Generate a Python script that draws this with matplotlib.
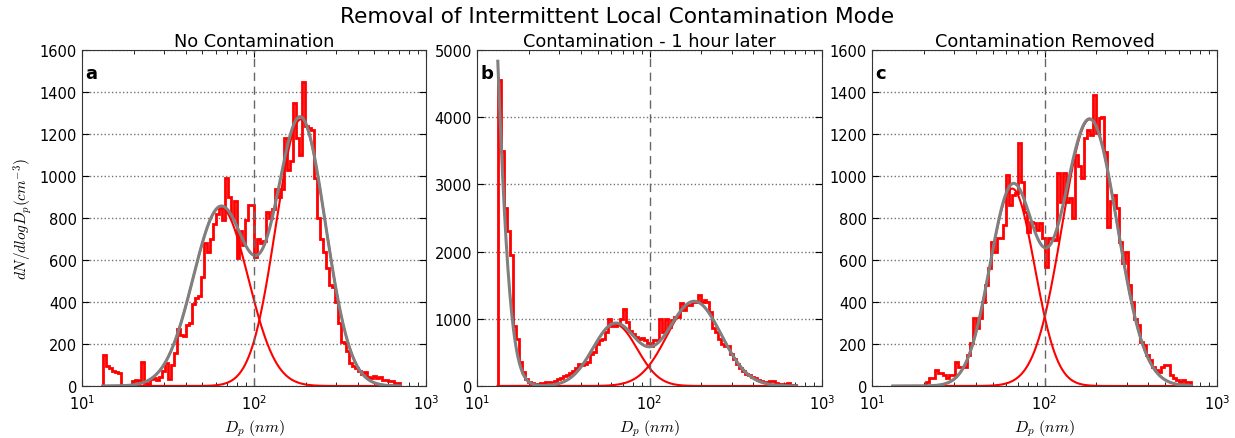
import numpy as np
import matplotlib
matplotlib.use("Agg")
from matplotlib import pyplot as plt
from matplotlib.ticker import MultipleLocator, LogLocator, NullFormatter

plt.rcParams['mathtext.fontset'] = 'cm'

# size channels (nm), shared by the three panels
d_min, d_max, n_bins = 13.2, 706.0, 100

# measured size distributions dN/dlogDp (cm^-3), one value per channel
no_contam = [150, 95, 85, 70, 65, 60, 0, 0, 0, 0,
             25, 30, 25, 115, 15, 10, 35, 40, 30, 45,
             70, 110, 35, 100, 155, 270, 245, 240, 290, 300,
             390, 420, 430, 520, 680, 640, 700, 770, 820, 850,
             790, 990, 900, 800, 880, 610, 740, 670, 790, 860,
             860, 616, 700, 680, 690, 830, 800, 845, 940, 900,
             940, 1180, 1030, 1070, 1350, 1180, 1100, 1450, 1240, 1230,
             1220, 990, 800, 700, 640, 560, 480, 470, 400, 300,
             210, 205, 165, 110, 95, 85, 70, 55, 65, 45,
             38, 50, 40, 42, 30, 28, 22, 25, 15, 12]

contam = [4550, 3500, 2650, 2300, 1950, 900, 700, 360, 210, 110,
          65, 40, 30, 35, 45, 40, 55, 60, 50, 70,
          110, 120, 150, 170, 200, 220, 270, 320, 310, 330,
          360, 480, 500, 620, 680, 700, 800, 1000, 900, 900,
          930, 1000, 1150, 950, 820, 780, 730, 700, 710, 680,
          640, 600, 680, 690, 1000, 810, 1000, 880, 980, 1030,
          1030, 1230, 1130, 1200, 1200, 1250, 1250, 1350, 1250, 1280,
          1250, 1100, 860, 800, 700, 620, 590, 600, 470, 400,
          320, 270, 220, 180, 160, 140, 115, 95, 70, 55,
          60, 80, 70, 40, 30, 35, 30, 40, 20, 15]

removed = [0, 0, 0, 0, 0, 0, 0, 0, 0, 0,
           0, 20, 36, 36, 76, 60, 60, 52, 36, 52,
           52, 116, 92, 92, 92, 148, 203, 322, 275, 322,
           401, 481, 560, 687, 640, 703, 703, 766, 1005, 862,
           909, 917, 1155, 973, 830, 735, 782, 774, 743, 774,
           703, 568, 703, 700, 695, 1012, 878, 1012, 878, 893,
           798, 1100, 1050, 989, 1179, 1219, 1195, 1386, 1203, 1274,
           1282, 1116, 759, 880, 909, 846, 687, 584, 640, 481,
           401, 320, 290, 211, 195, 148, 124, 92, 76, 68,
           92, 100, 100, 52, 36, 28, 20, 28, 20, 20]

# fitted lognormal modes: peak height, geometric mean diameter (nm), sigma of log10 D
modes_a = [(850, 64, 0.16), (1270, 187, 0.144)]
modes_b = [(11200, 10, 0.093), (920, 63, 0.128), (1260, 182, 0.156)]
modes_c = [(940, 65, 0.13), (1270, 183, 0.159)]

titles = ["No Contamination", "Contamination - 1 hour later", "Contamination Removed"]
letters = ["a", "b", "c"]
ymax = [1600, 5000, 1600]
ystep = [200, 1000, 200]


def mode(d, amp, dg, s):
    return amp * np.exp(-(np.log10(d) - np.log10(dg)) ** 2 / (2 * s ** 2))


edges = np.geomspace(d_min, d_max, n_bins + 1)
dd = np.geomspace(d_min, d_max, 500)

fig = plt.figure(figsize=(12.35, 4.39), dpi=100)
lefts = [82, 477, 872]
widths = [344, 345, 345]

data = [no_contam, contam, removed]
fits = [modes_a, modes_b, modes_c]

for k in range(3):
    ax = fig.add_axes([lefts[k] / 1235, 1 - 387 / 439, widths[k] / 1235, 336 / 439])
    ax.stairs(data[k], edges, color="red", lw=2)
    total = np.zeros_like(dd)
    for j, (amp, dg, s) in enumerate(fits[k]):
        y = mode(dd, amp, dg, s)
        total += y
        if not (k == 1 and j == 0):
            ax.plot(dd, y, color="red", lw=1.5)
    ax.plot(dd, total, color="gray", lw=2.2)
    ax.axvline(100, color="0.4", ls="--", lw=1, dashes=(6, 4))

    ax.set_xscale("log")
    ax.set_xlim(10, 1000)
    ax.set_ylim(0, ymax[k])
    ax.yaxis.set_major_locator(MultipleLocator(ystep[k]))
    ax.xaxis.set_minor_locator(LogLocator(base=10, subs=np.arange(2, 10)))
    ax.xaxis.set_minor_formatter(NullFormatter())
    ax.yaxis.grid(True, linestyle=":", color="0.45", lw=1)
    ax.set_axisbelow(True)
    ax.tick_params(which="both", direction="in", top=True, right=True, labelsize=10.5)
    ax.tick_params(which="major", length=5)
    ax.tick_params(which="minor", length=3)
    ax.tick_params(axis="x", pad=5)
    for sp in ax.spines.values():
        sp.set_color("0.2")

    ax.set_title(titles[k], fontsize=12.8, pad=3)
    ax.text(0.009, 0.917, letters[k], transform=ax.transAxes, fontsize=13,
            fontweight="bold", ha="left", va="baseline")
    ax.set_xlabel(r"$D_p\ (nm)$", fontsize=11.5)
    if k == 0:
        ax.set_ylabel(r"$dN/dlogD_p(cm^{-3})$", fontsize=11)

fig.text(0.5, 1 - 17 / 439, "Removal of Intermittent Local Contamination Mode",
         ha="center", va="center", fontsize=15.6)

fig.savefig("out.png", dpi=100)
